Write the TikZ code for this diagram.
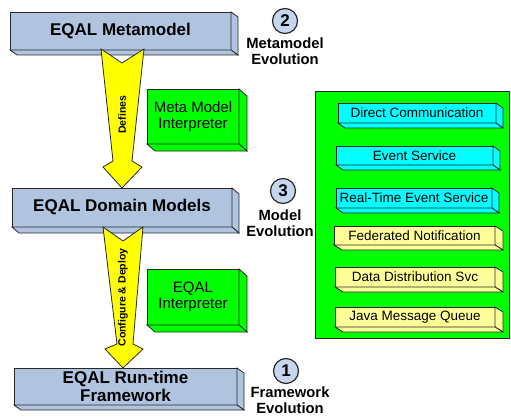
\documentclass[tikz,border=0pt]{standalone}
\usepackage{fontspec}
\setmainfont{Liberation Sans}
\usetikzlibrary{calc}
\definecolor{boxblue}{RGB}{176,196,224}
\definecolor{brightgreen}{RGB}{0,255,0}
\definecolor{brightcyan}{RGB}{0,255,255}
\definecolor{paleyellow}{RGB}{255,255,153}
\definecolor{arrowyellow}{RGB}{255,255,0}
\definecolor{circblue}{RGB}{198,214,238}
\definecolor{edgegray}{RGB}{40,40,40}
\tikzset{
  edge/.style={draw=edgegray, line width=0.8pt, line join=miter},
  front/.style={edge, inner sep=0pt, outer sep=0pt, align=center},
  bigbox/.style={front, fill=boxblue, font=\fontsize{17}{18}\selectfont\bfseries},
  interp/.style={front, fill=brightgreen, font=\fontsize{15}{15.5}\selectfont},
  cyanbox/.style={front, fill=brightcyan, font=\fontsize{13.5}{15}\selectfont},
  yelbox/.style={front, fill=paleyellow, font=\fontsize{13.5}{15}\selectfont},
  panelbox/.style={draw=edgegray, line width=0.8pt, fill=brightgreen, inner sep=0pt, outer sep=0pt},
  blockarrow/.style={edge, fill=arrowyellow},
  arrowlabel/.style={rotate=90, font=\fontsize{10.5}{12}\selectfont\bfseries},
  numcircle/.style={circle, draw=edgegray, line width=1.2pt, fill=circblue, minimum size=25pt, inner sep=0pt, font=\fontsize{17}{17}\selectfont\bfseries},
  evolabel/.style={align=center, font=\fontsize{14.8}{16}\selectfont\bfseries, inner sep=0pt}
}
% name, style, x1, y1, x2, y2, text
\newcommand{\frontbox}[7]{\node[#2, minimum width={#5-#3}, minimum height={#6-#4}] (#1) at ({(#3+#5)/2},{(#4+#6)/2}) {#7};}
% name, dx, dy, fill
\newcommand{\extrude}[4]{%
  \draw[edge, fill=#4] (#1.north east) -- ++(#2,#3) -- ([shift={(#2,#3)}]#1.south east) -- (#1.south east) -- cycle;
  \draw[edge, fill=#4] (#1.south west) -- ++(#2,#3) -- ([shift={(#2,#3)}]#1.south east) -- (#1.south east) -- cycle;}
\begin{document}
\begin{tikzpicture}[x=1pt,y=-1pt]
\useasboundingbox (0,0) rectangle (511,417);

% main boxes
\frontbox{meta}{bigbox}{10}{12}{231}{50}{EQAL Metamodel}
\extrude{meta}{7}{5}{boxblue}
\frontbox{domain}{bigbox}{12}{188}{232}{227}{EQAL Domain Models}
\extrude{domain}{7}{6}{boxblue}
\frontbox{runtime}{bigbox}{14}{368}{237}{405}{EQAL Run-time\\Framework}
\extrude{runtime}{7}{5}{boxblue}

% interpreters
\frontbox{mmi}{interp}{147}{89}{239}{144}{Meta Model\\Interpreter}
\extrude{mmi}{8}{7}{brightgreen}
\frontbox{eqi}{interp}{147}{269}{239}{325}{EQAL\\Interpreter}
\extrude{eqi}{8}{7}{brightgreen}

% panel
\node[panelbox, minimum width=194, minimum height=247] (panel) at (412,214.5) {};
\frontbox{dc}{cyanbox}{338}{103}{496}{123}{Direct Communication}
\extrude{dc}{7}{5}{brightcyan}
\frontbox{es}{cyanbox}{336}{146}{493}{165}{Event Service}
\extrude{es}{7}{5}{brightcyan}
\frontbox{rtes}{cyanbox}{336}{188}{492}{208}{Real-Time Event Service}
\extrude{rtes}{7}{5}{brightcyan}
\frontbox{fn}{yelbox}{334}{226}{495}{245}{Federated Notification}
\extrude{fn}{8}{5}{paleyellow}
\frontbox{dds}{yelbox}{335}{267}{495}{287}{Data Distribution Svc}
\extrude{dds}{8}{5}{paleyellow}
\frontbox{jmq}{yelbox}{335}{307}{495}{327}{Java Message Queue}
\extrude{jmq}{8}{5}{paleyellow}

% block arrows
\coordinate (a1s) at (122,0 |- meta.south);
\coordinate (a1e) at (122,0 |- domain.north);
\draw[blockarrow] ($(a1s)+(-21,-1)$) -- ($(a1s)+(0,13)$) -- ($(a1s)+(22,-1)$)
  -- ($(a1e)+(10,-27)$) -- ($(a1e)+(20,-21)$) -- (a1e) -- ($(a1e)+(-19,-21)$)
  -- ($(a1e)+(-9,-27)$) -- cycle;
\node[arrowlabel] (defl) at ($(a1s)!0.47!(a1e)$) {Defines};

\coordinate (a2s) at (123,0 |- domain.south);
\coordinate (a2e) at (123,0 |- runtime.north);
\draw[blockarrow] ($(a2s)+(-20,0)$) -- ($(a2s)+(0,14)$) -- ($(a2s)+(20,0)$)
  -- ($(a2e)+(10,-24)$) -- ($(a2e)+(20,-19)$) -- (a2e) -- ($(a2e)+(-18,-19)$)
  -- ($(a2e)+(-6,-24)$) -- cycle;
\node[arrowlabel] (cdl) at ($(a2s)!0.5!(a2e)$) {Configure \& Deploy};

% evolution labels
\node[numcircle] (c2) at (285,21) {2};
\node[evolabel] (e2) at (285,51) {Metamodel\\Evolution};
\node[numcircle] (c3) at (283,191) {3};
\node[evolabel] (e3) at (280,223.5) {Model\\Evolution};
\node[numcircle] (c1) at (286,371) {1};
\node[evolabel] (e1) at (290,400) {Framework\\Evolution};
\end{tikzpicture}
\end{document}
